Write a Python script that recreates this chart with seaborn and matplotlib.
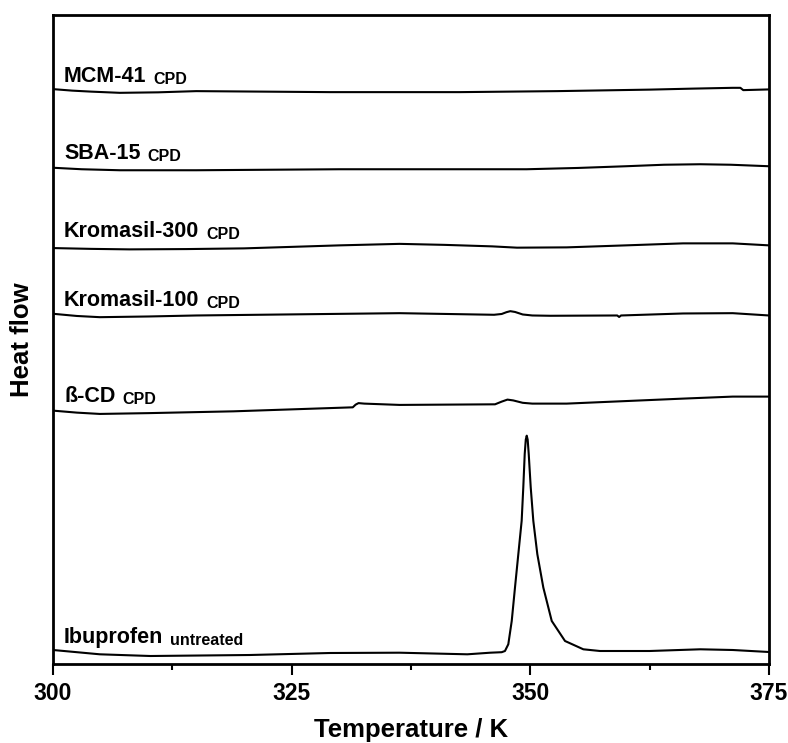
import numpy as np
import pandas as pd
import matplotlib
matplotlib.use("Agg")
import matplotlib.pyplot as plt
import seaborn as sns

# DSC traces (temperature in K, heat flow in arbitrary offset units)
mcm41_T = [300, 302, 304, 307, 311, 315, 329, 342.6, 352.8, 362.5, 367, 371.2, 372.0, 372.3, 375]
mcm41_h = [574, 572.5, 571.5, 570.3, 570.8, 572, 571, 571, 572, 573.5, 574.5, 575.3, 575.3, 573, 573.7]

sba15_T = [300, 303, 307, 315, 330, 349.6, 355, 360, 364, 367.8, 371, 375]
sba15_h = [495.5, 494, 493, 493, 494, 494, 495.3, 497, 498.5, 499, 498.5, 497]

krom300_T = [300, 304, 308, 314, 320, 330, 336.3, 341, 346, 348.6, 353.8, 360, 366, 371.2, 375]
krom300_h = [415.3, 414.5, 414, 414.3, 415, 418, 419.5, 418.5, 417, 415.7, 416, 418, 420, 420, 418]

krom100_T = [300, 302.5, 304.9, 310, 315, 336.3, 346.2, 347.0, 347.5, 347.9, 348.4, 349.2, 350.2,
             352.1, 359.1, 359.3, 359.5, 366, 371.2, 375]
krom100_h = [349.7, 347.5, 346.3, 347, 348, 350.3, 348.7, 349.5, 351.3, 352.3, 351.5, 349, 348,
             347.7, 348, 346.5, 348, 350, 350.3, 348]

bcd_T = [300, 302.5, 304.9, 310, 318.9, 331.4, 331.7, 332.0, 332.6, 336.3, 346.3, 347.0, 347.6,
         348.2, 349.2, 350.2, 353.8, 366, 371.2, 375]
bcd_h = [253, 251, 249.7, 250.5, 252.3, 256.3, 259, 260.5, 260, 258.7, 259.3, 262, 264,
         263.2, 260.8, 260, 260, 265, 267, 267]

ibu_T = [300, 304.9, 310.2, 320.6, 329, 336.3, 343.4, 345.8, 347.0, 347.34, 347.69, 348.05,
         348.39, 348.74, 349.09, 349.26, 349.41, 349.52, 349.62, 349.72, 349.83, 350.04,
         350.31, 350.73, 351.36, 352.24, 353.63, 355.55, 357.29, 362.5, 367.8, 371.2, 375]
ibu_h = [14, 9.7, 8, 9, 11, 11.3, 9.7, 11.3, 11.8, 13, 19.7, 43,
         76.3, 109.7, 143, 176.3, 209.7, 224, 228, 224, 209.7, 176.3,
         143, 109.7, 76.3, 43, 23, 14.7, 13, 13, 14.7, 14, 12]

names = ["MCM-41", "SBA-15", "Kromasil-300", "Kromasil-100", "\u00df-CD", "Ibuprofen"]
subs = ["CPD", "CPD", "CPD", "CPD", "CPD", "untreated"]
label_h = [576, 499, 421, 352, 257, 16]

curves = [(mcm41_T, mcm41_h), (sba15_T, sba15_h), (krom300_T, krom300_h),
          (krom100_T, krom100_h), (bcd_T, bcd_h), (ibu_T, ibu_h)]

sns.set_theme(style="white")
plt.rcParams['font.family'] = ['Liberation Sans', 'DejaVu Sans']
plt.rcParams['text.color'] = 'black'
plt.rcParams['axes.labelcolor'] = 'black'
plt.rcParams['xtick.color'] = 'black'
plt.rcParams['ytick.color'] = 'black'

fig = plt.figure(figsize=(7.88, 7.43), dpi=100)
ax = fig.add_axes([0.0673, 0.1063, 0.9086, 0.8735])

for (T, h) in curves:
    sns.lineplot(x=T, y=h, ax=ax, color="black", linewidth=1.5, sort=False, estimator=None)

for name, sub, yh in zip(names, subs, label_h):
    t = ax.text(301.15, yh, name, fontsize=15.5, fontweight="bold", va="bottom", ha="left")
    ax.annotate(sub, xy=(1, 0), xycoords=t, xytext=(5, 0), textcoords="offset points",
                fontsize=11.5, fontweight="bold", va="bottom", ha="left")

ax.set_xlim(300, 375)
ax.set_ylim(0, 648)
ax.set_xticks([300, 325, 350, 375])
ax.set_xticks([312.5, 337.5, 362.5], minor=True)
ax.set_yticks([])
ax.tick_params(axis="x", which="major", direction="out", length=8, width=1.5,
               labelsize=16.5, pad=5, bottom=True, top=False)
ax.tick_params(axis="x", which="minor", direction="out", length=4, width=1.5,
               bottom=True, top=False)
for lab in ax.get_xticklabels():
    lab.set_fontweight("bold")

for sp in ax.spines.values():
    sp.set_visible(True)
    sp.set_color("black")
    sp.set_linewidth(2)

ax.set_xlabel("Temperature / K", fontsize=18.5, fontweight="bold", labelpad=9)
ax.set_ylabel("Heat flow", fontsize=18.5, fontweight="bold", labelpad=14)

fig.savefig("out.png", dpi=100)
